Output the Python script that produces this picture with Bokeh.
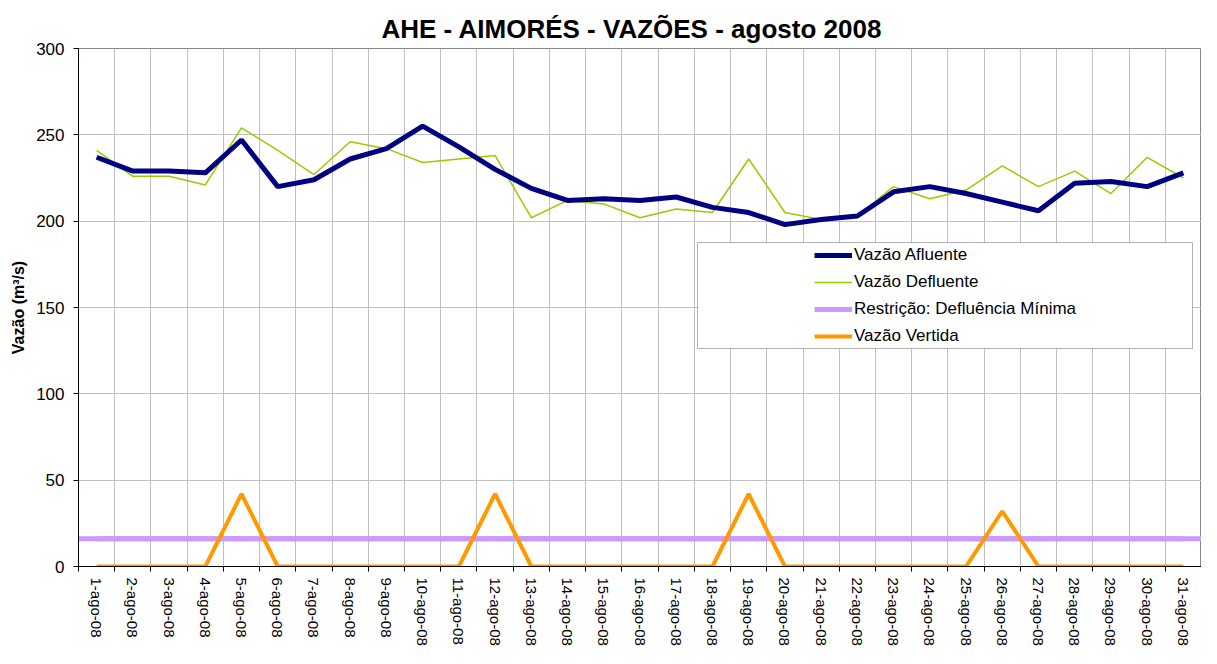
import math
from bokeh.plotting import figure
from bokeh.models import (Range1d, FixedTicker, Legend, LegendItem, Span, BoxAnnotation)
from bokeh.embed import file_html
from bokeh.resources import INLINE

# ---- data ----
days = list(range(1, 32))
labels = [f"{d}-ago-08" for d in days]
afluente = [237, 229, 229, 228, 247, 220, 224, 236, 242, 255, 243, 230, 219, 212, 213,
            212, 214, 208, 205, 198, 201, 203, 217, 220, 216, 211, 206, 222, 223, 220, 228]
defluente = [241, 226, 226, 221, 254, 241, 227, 246, 242, 234, 236, 238, 202, 212, 210,
             202, 207, 205, 236, 205, 201, 203, 220, 213, 218, 232, 220, 229, 216, 237, 225]
restricao = [16] * 31
vertida = [0, 0, 0, 0, 42, 0, 0, 0, 0, 0, 0, 42, 0, 0, 0, 0, 0, 0, 42, 0, 0, 0, 0, 0, 0,
           32, 0, 0, 0, 0, 0]
y_ticks = [0, 50, 100, 150, 200, 250, 300]

FONT = "Liberation Sans"

p = figure(width=1201, height=648, output_backend="svg", toolbar_location=None,
           x_range=Range1d(0.5, 31.5), y_range=Range1d(0, 300),
           min_border_left=78, min_border_right=0, min_border_top=48, min_border_bottom=76,
           title="AHE - AIMORÉS - VAZÕES - agosto 2008")

p.title.text_font = FONT
p.title.text_font_size = "26px"
p.title.text_font_style = "bold"
p.title.text_color = "black"
p.title.align = "left"
p.title.offset = 303

p.outline_line_color = "#888888"
p.background_fill_color = "white"
p.border_fill_color = "white"

# x axis
boundaries = [d - 0.5 for d in days] + [31.5]
p.xaxis.ticker = FixedTicker(ticks=days, minor_ticks=boundaries)
p.xaxis.major_label_overrides = {d: l for d, l in zip(days, labels)}
p.xaxis.major_label_orientation = -math.pi / 2
p.xaxis.major_label_text_font = FONT
p.xaxis.major_label_text_font_size = "15px"
p.xaxis.major_label_text_color = "black"
p.xaxis.major_tick_line_color = None
p.xaxis.major_tick_out = 0
p.xaxis.major_tick_in = 0
p.xaxis.minor_tick_line_color = "black"
p.xaxis.minor_tick_out = 5
p.xaxis.minor_tick_in = 0
p.xaxis.major_label_standoff = 6
p.xaxis.axis_line_color = "black"
p.xgrid.ticker = FixedTicker(ticks=boundaries)
p.xgrid.grid_line_color = "#c0c0c0"

# y axis
p.yaxis.ticker = FixedTicker(ticks=y_ticks)
p.yaxis.major_label_text_font = FONT
p.yaxis.major_label_text_font_size = "17px"
p.yaxis.major_label_text_color = "black"
p.yaxis.major_tick_out = 5
p.yaxis.major_tick_in = 0
p.yaxis.minor_tick_line_color = None
p.yaxis.major_label_standoff = 9
p.yaxis.axis_line_color = "black"
p.yaxis.axis_label = "Vazão (m³/s)"
p.yaxis.axis_label_text_font = FONT
p.yaxis.axis_label_text_font_size = "16px"
p.yaxis.axis_label_text_font_style = "bold"
p.yaxis.axis_label_text_color = "black"
p.yaxis.axis_label_standoff = 6
p.ygrid.grid_line_color = "#c0c0c0"

# series
restr_span = Span(location=restricao[0], dimension="width", line_color="#cc99ff",
                  line_width=5, level="underlay")
p.add_layout(restr_span)
r_restr = p.line(days, restricao, line_color="#cc99ff", line_width=5)
r_vert = p.line(days, vertida, line_color="#ff9900", line_width=4)
r_defl = p.line(days, defluente, line_color="#99cc00", line_width=1.5)
r_afl = p.line(days, afluente, line_color="#000080", line_width=5)

# legend frame
box = BoxAnnotation(left=619, right=1114, bottom=218, top=324,
                    left_units="screen", right_units="screen",
                    bottom_units="screen", top_units="screen",
                    fill_color="white", fill_alpha=1.0,
                    line_color="black", line_width=1)
p.add_layout(box)

legend = Legend(items=[
    LegendItem(label="Vazão Afluente", renderers=[r_afl]),
    LegendItem(label="Vazão Defluente", renderers=[r_defl]),
    LegendItem(label="Restrição: Defluência Mínima", renderers=[r_restr]),
    LegendItem(label="Vazão Vertida", renderers=[r_vert]),
], location=(736, 220), orientation="vertical")
legend.padding = 0
legend.margin = 0
legend.spacing = 7
legend.glyph_width = 38
legend.glyph_height = 20
legend.label_height = 20
legend.label_standoff = 2
legend.label_text_font = FONT
legend.label_text_font_size = "17px"
legend.label_text_color = "black"
legend.background_fill_alpha = 0
legend.border_line_color = None
legend.click_policy = "none"
p.add_layout(legend, "center")

open("out.html", "w").write(file_html(p, INLINE))
